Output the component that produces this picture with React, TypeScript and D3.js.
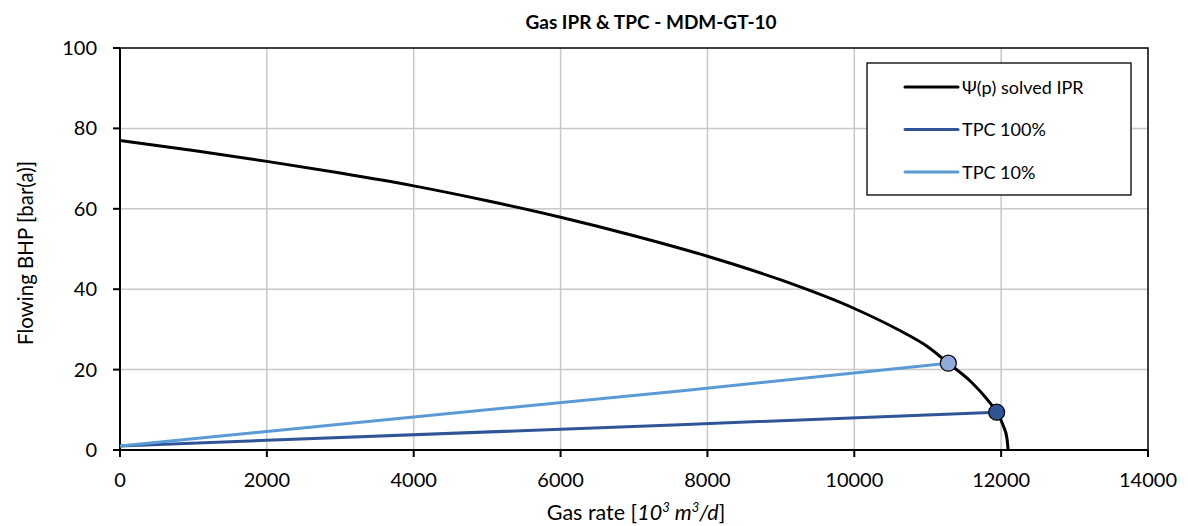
import React from 'react';
import * as d3 from 'd3';

// IPR curve: gas rate [10^3 m3/d] vs flowing BHP [bar(a)]
const iprRate = [0, 1000, 2000, 3000, 4000, 5000, 6000, 7000, 8000, 9000, 10000, 10600, 11000, 11281, 11600, 11800, 11939, 12030, 12080, 12095];
const iprPress = [77.0, 74.5, 71.8, 68.9, 65.7, 62.0, 57.9, 53.3, 48.2, 42.3, 35.2, 29.9, 25.7, 21.6, 16.8, 12.8, 9.4, 6.0, 2.8, 0];

const tpc100Rate = [0, 2000, 7626, 11939];
const tpc100Press = [1.0, 2.4, 6.3, 9.4];

const tpc10Rate = [0, 2000, 7626, 11281];
const tpc10Press = [1.0, 4.6, 14.7, 21.6];

// operating points (intersections)
const opRate = [11281, 11939];
const opPress = [21.6, 9.4];

const xTicks = [0, 2000, 4000, 6000, 8000, 10000, 12000, 14000];
const yTicks = [0, 20, 40, 60, 80, 100];

const legendLabels = ['Ψ(p) solved IPR', 'TPC 100%', 'TPC 10%'];

const FONT = 'Lato, "Open Sans", sans-serif';

export default function App() {
  const width = 1188;
  const height = 526;
  const margin = { left: 120, right: 40, top: 48, bottom: 76 };

  const x = d3.scaleLinear().domain([0, 14000]).range([margin.left, width - margin.right]);
  const y = d3.scaleLinear().domain([0, 100]).range([height - margin.bottom, margin.top]);

  const zip = (a: number[], b: number[]) => a.map((v, i) => [v, b[i]] as [number, number]);

  const curve = d3.line<[number, number]>()
    .x(d => x(d[0]))
    .y(d => y(d[1]))
    .curve(d3.curveMonotoneX);
  const straight = d3.line<[number, number]>()
    .x(d => x(d[0]))
    .y(d => y(d[1]));

  const colors = ['#000000', '#2F5597', '#5B9BD5'];
  const markerFill = ['#8FAADC', '#2F5597'];

  const x0 = x(0), x1 = x(14000), y0 = y(0), y1 = y(100);

  return (
    <svg width={width} height={height} style={{ display: 'block', position: 'absolute', left: 0, top: 0 }}>
      <rect width={width} height={height} fill="#fff" />
      <text x={651} y={29} textAnchor="middle" fontFamily={FONT} fontWeight="bold" fontSize={19} fill="#000">
        Gas IPR &amp; TPC - MDM-GT-10
      </text>

      {/* grid */}
      {xTicks.slice(1, -1).map(t => (
        <line key={'gx' + t} x1={x(t)} x2={x(t)} y1={y0} y2={y1} stroke="#C8C8C8" strokeWidth={1.5} />
      ))}
      {yTicks.slice(1, -1).map(t => (
        <line key={'gy' + t} x1={x0} x2={x1} y1={y(t)} y2={y(t)} stroke="#C8C8C8" strokeWidth={1.5} />
      ))}

      {/* frame */}
      <rect x={x0} y={y1} width={x1 - x0} height={y0 - y1} fill="none" stroke="#000" strokeWidth={1.5} />
      <line x1={x0} x2={x0} y1={y1} y2={y0 + 1} stroke="#000" strokeWidth={2} />
      <line x1={x0 - 1} x2={x1} y1={y0} y2={y0} stroke="#000" strokeWidth={2} />

      {/* ticks */}
      {xTicks.map(t => (
        <g key={'tx' + t}>
          <line x1={x(t)} x2={x(t)} y1={y0} y2={y0 + 7} stroke="#000" strokeWidth={2} />
          <text x={x(t)} y={y0 + 37} textAnchor="middle" fontFamily={FONT} fontSize={20} fill="#000">{t}</text>
        </g>
      ))}
      {yTicks.map(t => (
        <g key={'ty' + t}>
          <line x1={x0 - 7} x2={x0} y1={y(t)} y2={y(t)} stroke="#000" strokeWidth={2} />
          <text x={x0 - 23} y={y(t) + 7} textAnchor="end" fontFamily={FONT} fontSize={20} fill="#000">{t}</text>
        </g>
      ))}

      {/* axis titles */}
      <text x={636} y={520} textAnchor="middle" fontFamily={FONT} fontSize={21.5} fill="#000">
        Gas rate [<tspan fontStyle="italic">10<tspan dy={-8} fontSize={13}>3</tspan><tspan dy={8}> m</tspan><tspan dy={-8} fontSize={13}>3</tspan><tspan dy={8}>/d</tspan></tspan>]
      </text>
      <text transform={`translate(33, ${(y0 + y1) / 2 + 4}) rotate(-90)`} textAnchor="middle" fontFamily={FONT} fontSize={20.5} fill="#000">
        Flowing BHP [bar(a)]
      </text>

      {/* series */}
      <path d={straight(zip(tpc100Rate, tpc100Press)) || ''} fill="none" stroke={colors[1]} strokeWidth={3} />
      <path d={straight(zip(tpc10Rate, tpc10Press)) || ''} fill="none" stroke={colors[2]} strokeWidth={3} />
      <path d={curve(zip(iprRate, iprPress)) || ''} fill="none" stroke={colors[0]} strokeWidth={3} />
      {opRate.map((r, i) => (
        <circle key={'op' + i} cx={x(r)} cy={y(opPress[i])} r={8} fill={markerFill[i]} stroke="#000" strokeWidth={1.2} />
      ))}

      {/* legend */}
      <rect x={867} y={63} width={264} height={132} fill="#fff" stroke="#000" strokeWidth={1.3} />
      {legendLabels.map((l, i) => (
        <g key={l} transform={`translate(0, ${87 + i * 42.5})`}>
          <line x1={905} x2={958} y1={0} y2={0} stroke={colors[i]} strokeWidth={3} strokeLinecap="round" />
          <text x={962} y={6.5} fontFamily={FONT} fontSize={18} fill="#000">{l}</text>
        </g>
      ))}
    </svg>
  );
}
